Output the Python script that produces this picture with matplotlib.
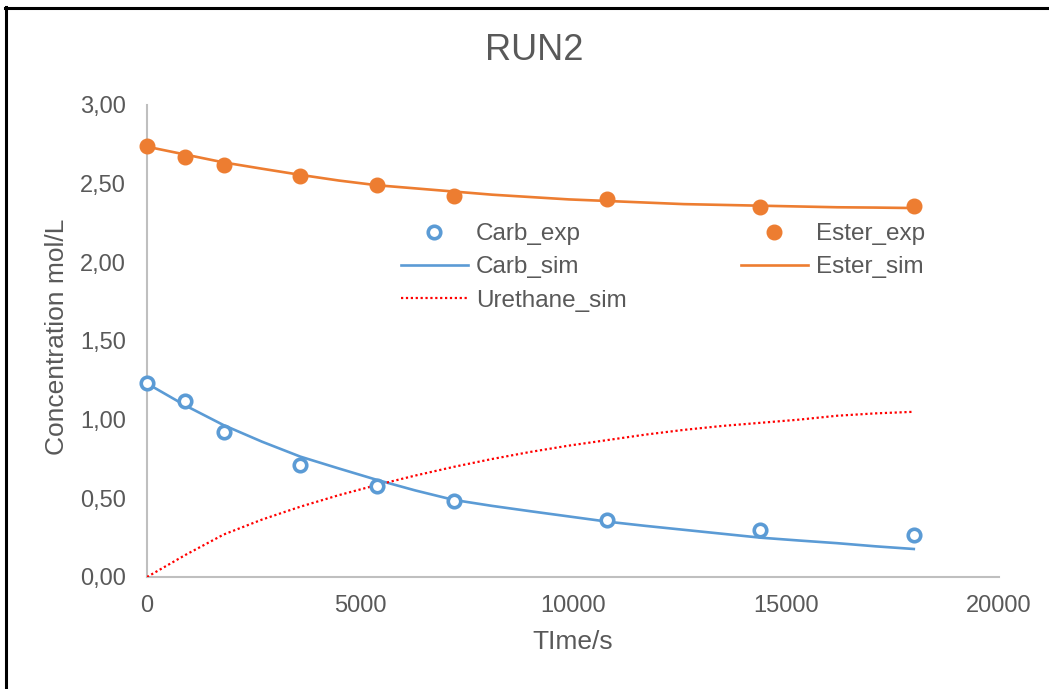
import matplotlib
matplotlib.use("Agg")
import matplotlib.pyplot as plt
from matplotlib.ticker import FuncFormatter, FixedLocator
from matplotlib.lines import Line2D

# Experimental sampling times (s) and measured concentrations (mol/L)
t_exp = [0, 900, 1800, 3600, 5400, 7200, 10800, 14400, 18000]
carb_exp = [1.23, 1.12, 0.92, 0.71, 0.58, 0.48, 0.36, 0.30, 0.27]
ester_exp = [2.74, 2.67, 2.62, 2.55, 2.49, 2.42, 2.40, 2.35, 2.36]

# Simulated profiles (s, mol/L)
t_sim = [0, 900, 1800, 2700, 3600, 4500, 5400, 6300, 7200, 8100, 9000,
         9900, 10800, 11700, 12600, 13500, 14400, 15300, 16200, 17100, 18000]
carb_sim = [1.23, 1.09, 0.965, 0.86, 0.765, 0.69, 0.617, 0.55, 0.49, 0.452, 0.418,
            0.385, 0.352, 0.325, 0.30, 0.275, 0.25, 0.232, 0.215, 0.195, 0.178]
ester_sim = [2.735, 2.685, 2.635, 2.595, 2.556, 2.52, 2.49, 2.47, 2.45, 2.43, 2.415,
             2.40, 2.39, 2.38, 2.37, 2.365, 2.36, 2.355, 2.35, 2.348, 2.345]
urethane_sim = [0.0, 0.14, 0.27, 0.365, 0.447, 0.52, 0.585, 0.645, 0.70, 0.75, 0.795,
                0.835, 0.87, 0.905, 0.935, 0.96, 0.98, 1.00, 1.025, 1.04, 1.05]

x_ticks = [0, 5000, 10000, 15000, 20000]
y_ticks = [0.0, 0.5, 1.0, 1.5, 2.0, 2.5, 3.0]

BLUE = "#5B9BD5"
ORANGE = "#ED7D31"
RED = "#FF0000"
TEXT = "#595959"
AXIS = "#BFBFBF"

plt.rcParams["font.family"] = ["Liberation Sans", "DejaVu Sans"]

W, H = 1049, 689
fig = plt.figure(figsize=(W / 100, H / 100), dpi=100)
ax = fig.add_axes([147 / W, 1 - 577 / H, (999 - 147) / W, (577 - 105) / H])

ax.plot(t_sim, carb_sim, color=BLUE, lw=1.9, label="Carb_sim", zorder=3)
ax.plot(t_sim, ester_sim, color=ORANGE, lw=1.9, label="Ester_sim", zorder=3)
ax.plot(t_sim, urethane_sim, color=RED, lw=1.6, ls=(0, (1, 1.2)), label="Urethane_sim", zorder=3)
ax.plot(t_exp, carb_exp, ls="none", marker="o", ms=9, mfc="white", mec=BLUE, mew=2.6,
        label="Carb_exp", zorder=4, clip_on=False)
ax.plot(t_exp, ester_exp, ls="none", marker="o", ms=10.5, color=ORANGE,
        label="Ester_exp", zorder=4, clip_on=False)

ax.set_xlim(0, 20000)
ax.set_ylim(0, 3.0)
ax.xaxis.set_major_locator(FixedLocator(x_ticks))
ax.yaxis.set_major_locator(FixedLocator(y_ticks))
ax.yaxis.set_major_formatter(FuncFormatter(lambda v, p: f"{v:.2f}".replace(".", ",")))
ax.xaxis.set_major_formatter(FuncFormatter(lambda v, p: f"{int(v)}"))

for s in ("top", "right"):
    ax.spines[s].set_visible(False)
for s in ("left", "bottom"):
    ax.spines[s].set_color(AXIS)
    ax.spines[s].set_linewidth(1.5)
ax.tick_params(length=0, labelsize=17, colors=TEXT)
ax.tick_params(axis="y", pad=15)
ax.tick_params(axis="x", pad=13)

ax_h = 577 - 105
ax_w = 999 - 147
ax.set_xlabel("TIme/s", fontsize=19, color=TEXT, va="center")
ax.xaxis.set_label_coords(0.5, (577 - 642) / ax_h)
ax.set_ylabel("Concentration mol/L", fontsize=19, color=TEXT, va="center")
ax.yaxis.set_label_coords((57 - 147) / ax_w, (577 - 337) / ax_h)
fig.text(534 / W, 1 - 51 / H, "RUN2", ha="center", va="center", fontsize=26, color=TEXT)

# Legend: two columns, markers first row
h = {l.get_label(): l for l in ax.get_lines()}
order = ["Carb_exp", "Carb_sim", "Urethane_sim", "Ester_exp", "Ester_sim"]
leg = fig.legend([h[k] for k in order], order, ncol=2, loc="upper left",
                 bbox_to_anchor=(401 / W, 1 - 223 / H), frameon=False,
                 fontsize=17.5, handlelength=2.75, handletextpad=0.33,
                 columnspacing=4.7, labelspacing=0.47, borderpad=0, borderaxespad=0)
for t in leg.get_texts():
    t.set_color(TEXT)

# Partial frame along the top and left edges
fig.add_artist(Line2D([6 / W, 6 / W], [0, 1 - 7 / H], color="black", lw=2.2, transform=fig.transFigure))
fig.add_artist(Line2D([5 / W, 1], [1 - 8 / H, 1 - 8 / H], color="black", lw=2.2, transform=fig.transFigure))

fig.savefig("out.png", dpi=100)
